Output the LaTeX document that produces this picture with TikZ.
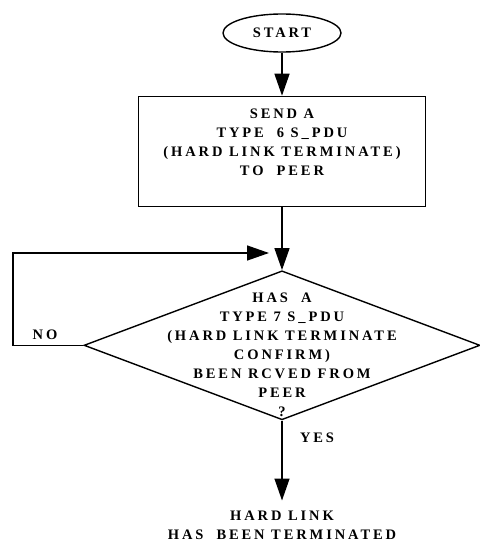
\documentclass[tikz,border=0pt]{standalone}
\usepackage{fontspec}
\newfontfamily\flowfont[LetterSpace=20]{Liberation Serif Bold}
\usetikzlibrary{shapes.geometric, arrows.meta, positioning}

\begin{document}
\begin{tikzpicture}[
    x=1pt, y=-1pt,
    node distance=40pt,
    base/.style={font=\flowfont\fontsize{14.5}{19}\selectfont, align=center, inner sep=0pt},
    startstop/.style={base, ellipse, draw=black, line width=1.4pt, minimum width=118pt, minimum height=38pt},
    process/.style={base, rectangle, draw=black, line width=1.4pt, minimum width=287pt, minimum height=110pt},
    decision/.style={diamond, draw=black, line width=1.4pt, minimum width=396pt, minimum height=149pt, inner sep=0pt},
    answer/.style={base},
    arrow/.style={-{Triangle[length=22pt, width=15pt]}, line width=1.4pt}
]
\useasboundingbox (0,0) rectangle (479,543);

\node[startstop] (start) at (282,33) {START};
\node[process, below=43pt of start] (send) {SEND A\\TYPE~ 6 S\_PDU\\(HARD LINK TERMINATE)\\TO~ PEER\\\mbox{}};
\node[decision, below=63pt of send] (check) {};
\node[base] (checktext) at ([yshift=-9.5pt]check.center) {HAS~ A\\TYPE 7 S\_PDU\\(HARD LINK TERMINATE\\CONFIRM)\\BEEN RCVED FROM\\PEER\\?};
\node[base, outer ysep=10pt, below=80pt of check] (terminated) {HARD LINK\\HAS~ BEEN TERMINATED};

\node[answer] (no) at (45,335) {NO};
\node[answer] (yes) at (317,438) {YES};

\coordinate (corner) at (13,253);
\coordinate (back) at (269,253);

\draw[arrow] (start) -- (send);
\draw[arrow] (send) -- (check);
\draw[arrow] (check.west) -| (corner) -- (back);
\draw[arrow] (check.south) -- (terminated.north);

\end{tikzpicture}
\end{document}
